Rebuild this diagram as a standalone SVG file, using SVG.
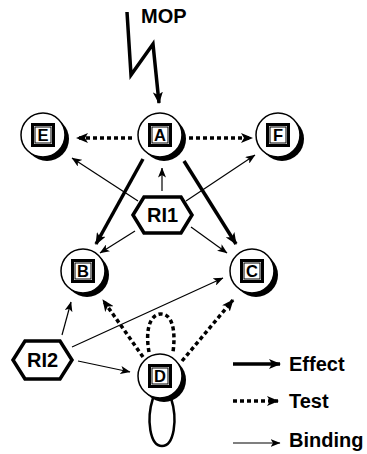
<svg xmlns="http://www.w3.org/2000/svg" width="367" height="454" viewBox="0 0 367 454">
<style>
.shadow{fill:#000}
.disk{fill:#fff;stroke:#000;stroke-width:1.5}
.box{fill:#fff;stroke:#000;stroke-width:3}
.inbox{fill:none;stroke:#000;stroke-width:1}
.lbl{font-family:"Liberation Sans",Arial,sans-serif;font-weight:bold;font-size:16.5px;text-anchor:middle}
.txt{font-family:"Liberation Sans",Arial,sans-serif;font-weight:bold;font-size:20px}
.hex{fill:#fff;stroke:#000;stroke-width:3.5;stroke-linejoin:miter}
.effect{fill:none;stroke:#000;stroke-width:3.5}
.test{fill:none;stroke:#000;stroke-width:3.5;stroke-dasharray:4 3}
.bind{fill:none;stroke:#000;stroke-width:1.2}
</style>
<defs>
<marker id="ah" markerUnits="userSpaceOnUse" viewBox="0 0 12 10" refX="11" refY="5" markerWidth="12" markerHeight="10" orient="auto">
<path d="M0,0 L12,5 L0,10 L3,5 Z" fill="#000"/>
</marker>
<marker id="ahs" markerUnits="userSpaceOnUse" viewBox="0 0 10 8" refX="9.5" refY="4" markerWidth="10" markerHeight="8" orient="auto">
<path d="M0,0 L10,4 L0,8 L2.5,4 Z" fill="#000"/>
</marker>
</defs>

<g id="connectors">
<polyline class="effect" points="127,12 131,75 153,44 159,103" marker-end="url(#ah)" stroke-linejoin="miter"/>
<line class="test" x1="132" y1="138" x2="77" y2="138" marker-end="url(#ah)"/>
<line class="test" x1="189" y1="138" x2="252" y2="138" marker-end="url(#ah)"/>
<line class="effect" x1="143" y1="159" x2="96" y2="244" marker-end="url(#ah)"/>
<line class="effect" x1="184" y1="161" x2="236" y2="244" marker-end="url(#ah)"/>
<line class="bind" x1="162" y1="191" x2="162" y2="168" marker-end="url(#ahs)"/>
<line class="bind" x1="138" y1="201" x2="72" y2="158" marker-end="url(#ahs)"/>
<line class="bind" x1="186" y1="201" x2="255" y2="155" marker-end="url(#ahs)"/>
<line class="bind" x1="135" y1="231" x2="100" y2="253" marker-end="url(#ahs)"/>
<line class="bind" x1="191" y1="227" x2="227" y2="253" marker-end="url(#ahs)"/>
<line class="bind" x1="62" y1="335" x2="71" y2="302" marker-end="url(#ahs)"/>
<line class="bind" x1="72" y1="347" x2="223" y2="278" marker-end="url(#ahs)"/>
<line class="bind" x1="78" y1="361" x2="130" y2="372" marker-end="url(#ahs)"/>
<line class="test" x1="143" y1="357" x2="103" y2="300" marker-end="url(#ah)"/>
<line class="test" x1="182" y1="361" x2="233" y2="300" marker-end="url(#ah)"/>
<path class="test" d="M149,352 C145,330 150,314 161,314 C172,314 176,330 173,352" stroke-dasharray="8 5"/>
<path fill="none" stroke="#000" stroke-width="2.5" d="M153,398 C146,420 150,446 162,446 C174,446 178,420 171,398"/>
</g>

<g id="node-E">
<circle class="shadow" cx="47" cy="139" r="22"/>
<circle class="disk" cx="43" cy="135" r="22"/>
<rect class="box" x="32.5" y="124.5" width="21" height="21"/>
<rect class="inbox" x="35" y="127" width="16" height="16"/>
<text class="lbl" x="43" y="141">E</text>
</g>
<g id="node-A">
<circle class="shadow" cx="164" cy="139" r="22"/>
<circle class="disk" cx="160" cy="135" r="22"/>
<rect class="box" x="149.5" y="124.5" width="21" height="21"/>
<rect class="inbox" x="152" y="127" width="16" height="16"/>
<text class="lbl" x="160" y="141">A</text>
</g>
<g id="node-F">
<circle class="shadow" cx="282" cy="139" r="22"/>
<circle class="disk" cx="278" cy="135" r="22"/>
<rect class="box" x="267.5" y="124.5" width="21" height="21"/>
<rect class="inbox" x="270" y="127" width="16" height="16"/>
<text class="lbl" x="278" y="141">F</text>
</g>
<g id="node-B">
<circle class="shadow" cx="87" cy="275" r="22"/>
<circle class="disk" cx="83" cy="271" r="22"/>
<rect class="box" x="72.5" y="260.5" width="21" height="21"/>
<rect class="inbox" x="75" y="263" width="16" height="16"/>
<text class="lbl" x="83" y="277">B</text>
</g>
<g id="node-C">
<circle class="shadow" cx="256" cy="275" r="22"/>
<circle class="disk" cx="252" cy="271" r="22"/>
<rect class="box" x="241.5" y="260.5" width="21" height="21"/>
<rect class="inbox" x="244" y="263" width="16" height="16"/>
<text class="lbl" x="252" y="277">C</text>
</g>
<g id="node-D">
<circle class="shadow" cx="164" cy="380" r="22"/>
<circle class="disk" cx="160" cy="376" r="22"/>
<rect class="box" x="149.5" y="365.5" width="21" height="21"/>
<rect class="inbox" x="152" y="368" width="16" height="16"/>
<text class="lbl" x="160" y="382">D</text>
</g>
<g id="node-RI1">
<polygon class="hex" points="133,215 144,197 181,197 192,215 181,233 144,233"/>
<text class="txt" x="162.5" y="222" text-anchor="middle">RI1</text>
</g>
<g id="node-RI2">
<polygon class="hex" points="13,360 25,341 60,341 72,360 60,379 25,379"/>
<text class="txt" x="42.5" y="367" text-anchor="middle">RI2</text>
</g>
<g id="node-MOP">
<text class="txt" x="141" y="23">MOP</text>
</g>
<g id="legend">
<line class="effect" x1="233" y1="364" x2="280" y2="364" marker-end="url(#ah)"/>
<text class="txt" x="289" y="371">Effect</text>
<line class="test" x1="233" y1="401" x2="278" y2="401" marker-end="url(#ah)"/>
<text class="txt" x="289" y="408">Test</text>
<line class="bind" x1="233" y1="443" x2="280" y2="443" marker-end="url(#ahs)"/>
<text class="txt" x="289" y="447">Binding</text>
</g>
</svg>
